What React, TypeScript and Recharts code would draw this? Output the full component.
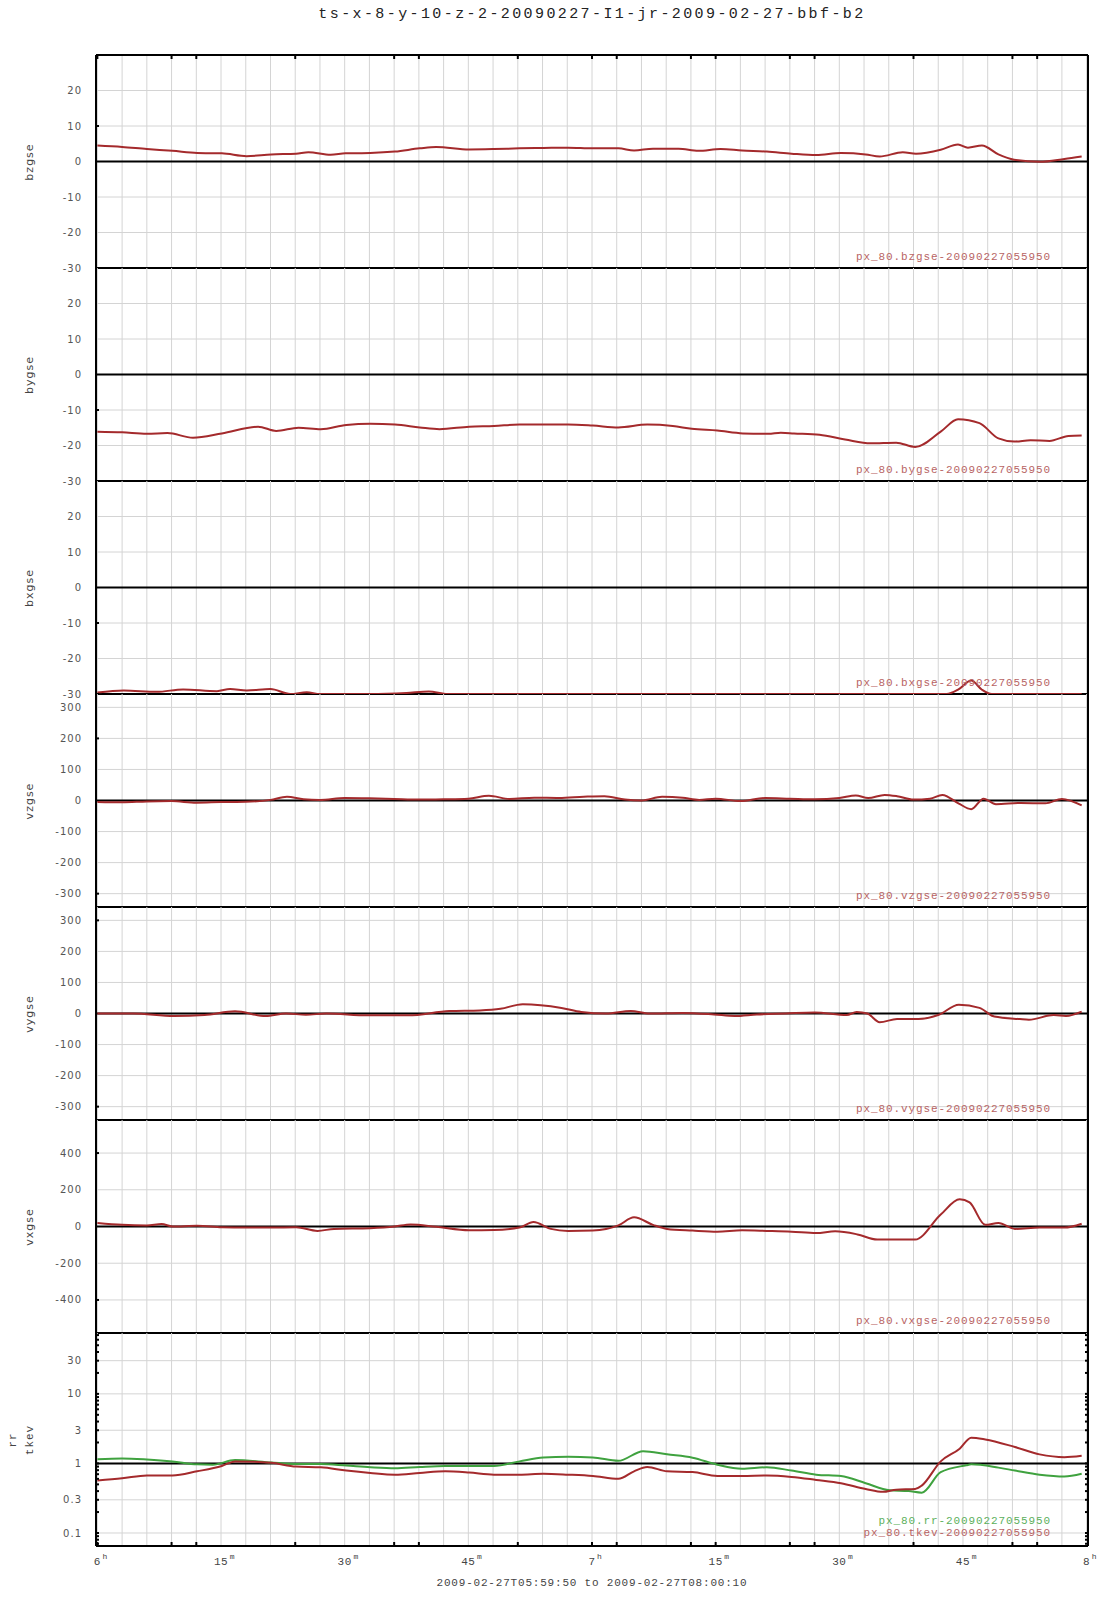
import React from 'react'
import { LineChart, Line, XAxis, YAxis, ReferenceLine } from 'recharts'

// time axis in minutes after 06:00 (span is 05:59:50 .. 08:00:10)
const T_START = -1 / 6
const T_END = 120 + 1 / 6
const GRID_TICKS = Array.from({ length: 41 }, (_, i) => i * 3)
const MINOR_X = [0, 9, 12, 24, 36, 39, 51, 60, 63, 72, 75, 84, 87, 99, 111, 114]
const X_LABEL_TICKS = [0, 15, 30, 45, 60, 75, 90, 105, 120]
const X_LABEL_MAIN = ['6', '15', '30', '45', '7', '15', '30', '45', '8']
const X_LABEL_SUP = ['h', 'm', 'm', 'm', 'h', 'm', 'm', 'm', 'h']

const B_TICKS = [20, 10, 0, -10, -20, -30]
const V_TICKS = [300, 200, 100, 0, -100, -200, -300]
const VX_TICKS = [400, 200, 0, -200, -400]
const LOG_TICKS = [30, 10, 3, 1, 0.3, 0.1]
const LOG_MINOR = [0.07, 0.08, 0.09, 0.1, 0.2, 0.3, 0.4, 0.5, 0.6, 0.7, 0.8, 0.9, 1, 2, 3, 4, 5, 6, 7, 8, 9, 10, 20, 30, 40, 50, 60, 70]

// [minute, value]
const BZGSE: [number, number][] = [
  [0, 4.5], [3, 4.1], [6, 3.5], [9.1, 3.0], [12.1, 2.4], [15.1, 2.3], [18.1, 1.5], [21.1, 2.0],
  [24.1, 2.2], [25.6, 2.6], [28.3, 1.9], [30.1, 2.3], [33.1, 2.4], [36.1, 2.8], [39.1, 3.7],
  [41.1, 4.1], [45.1, 3.4], [48.1, 3.5], [51.2, 3.7], [54.1, 3.8], [57.1, 3.9], [60.1, 3.7],
  [63.2, 3.7], [65.1, 3.1], [67.4, 3.6], [70.5, 3.6], [72.9, 3.0], [75.6, 3.5], [78.2, 3.1],
  [81.2, 2.8], [84.2, 2.2], [87.2, 1.8], [90.2, 2.4], [93.2, 2.0], [94.9, 1.4], [97.7, 2.6],
  [99.3, 2.2], [102.3, 3.3], [104.4, 4.8], [105.6, 3.9], [107.3, 4.5], [109.3, 2.0], [111.2, 0.5],
  [114.3, -0.1], [117.3, 0.7], [119.4, 1.4],
]

const BYGSE: [number, number][] = [
  [0, -16.1], [3, -16.3], [6, -16.7], [8.5, -16.5], [11.6, -17.8], [15.1, -16.6], [19.5, -14.7],
  [21.7, -15.9], [24.4, -15.0], [27.1, -15.4], [30.2, -14.2], [33.1, -13.9], [36.1, -14.1],
  [39.1, -14.9], [41.5, -15.4], [45.1, -14.7], [48.1, -14.5], [51.2, -14.1], [54.1, -14.1],
  [57.1, -14.1], [60.1, -14.4], [63.2, -14.9], [66.7, -14.1], [69.8, -14.5], [72.1, -15.3],
  [75.2, -15.8], [78.3, -16.6], [81.4, -16.7], [82.9, -16.4], [84.5, -16.6], [87.6, -17.0],
  [90.7, -18.3], [93.8, -19.4], [96.9, -19.2], [99.2, -20.4], [102.3, -16.1], [104.4, -12.6],
  [107, -13.7], [109.3, -18.0], [111.2, -18.9], [113.2, -18.5], [115.5, -18.7], [117.8, -17.3],
  [119.4, -17.2],
]

const BXGSE: [number, number][] = [
  [0, -29.6], [3.2, -29.0], [7.2, -29.4], [10.4, -28.7], [14.5, -29.2], [16.1, -28.6], [18.1, -29.0],
  [21, -28.6], [23.4, -30], [25.4, -29.5], [27, -30], [33, -30], [37.5, -29.7], [40.2, -29.3],
  [42.5, -30], [60, -30], [80, -30], [103, -30], [104.5, -28.6], [106, -26.2], [107.3, -28.8],
  [108.5, -30], [119.4, -30],
]

const VZGSE: [number, number][] = [
  [0, -5], [3, -6], [6, -3], [9, -2], [12, -7], [15, -5], [18, -4], [21, 2], [23, 12], [25, 4],
  [27, 2], [30, 8], [33, 7], [36, 5], [39, 3], [42, 4], [45, 6], [47.5, 15], [50, 5], [53, 9],
  [56, 8], [59, 12], [61.5, 14], [64, 3], [66, 0], [68.5, 12], [71, 9], [73, 2], [75, 6],
  [78, -2], [81, 8], [84, 6], [87, 4], [90, 8], [92, 16], [93.5, 8], [95.5, 18], [97, 14],
  [99, 3], [101, 6], [102.5, 18], [104.5, -10], [106, -28], [107.5, 6], [109, -12], [112, -8],
  [115, -9], [117, 5], [119.4, -16],
]

const VYGSE: [number, number][] = [
  [0, 0], [4.3, 0], [9.3, -8], [13, -5], [16.7, 7], [20.4, -8], [22.9, 0], [25.3, -4], [27.8, 0],
  [32.8, -6], [37.7, -6], [42.7, 8], [46.4, 10], [48.9, 15], [51.6, 30], [56.3, 18], [58.7, 5],
  [61.7, 0], [64.7, 8], [67, 0], [71, 2], [74.8, -3], [77.3, -8], [80, -3], [83.5, 0], [87, 3],
  [90.9, -5], [92.1, 5], [93.4, 0], [94.9, -28], [97, -18], [99.6, -18], [102, -5], [104.5, 28],
  [107, 18], [108.8, -10], [111.9, -18], [113, -20], [116, -5], [117.5, -8], [119.4, 6],
]

const VXGSE: [number, number][] = [
  [0, 19], [3, 9], [6, 6], [7.8, 13], [9.1, 0], [12.1, 4], [15.1, -4], [18.1, -6], [21.1, -6],
  [24.1, -4], [26.7, -24], [28.7, -13], [33.1, -9], [36.1, 0], [38, 11], [41.1, -2], [45.1, -21],
  [48.1, -19], [51.2, -6], [52.9, 24], [55, -13], [57.1, -24], [60.1, -22], [63.2, 6], [65.1, 50],
  [67.4, 9], [69.1, -13], [72.2, -22], [75.2, -28], [78.2, -21], [81.2, -24], [84.2, -28],
  [87.2, -36], [89.5, -26], [92.2, -43], [94.6, -71], [96.9, -71], [99.2, -71], [102.3, 65],
  [104.6, 148], [105.8, 131], [107.7, 9], [109.3, 19], [111.3, -13], [114.3, -6], [117.3, -6],
  [119.4, 15],
]

const TKEV: [number, number][] = [
  [0, 0.57], [3, 0.61], [6, 0.67], [9.1, 0.67], [12.1, 0.77], [15.1, 0.92], [16.7, 1.07],
  [21.1, 1.02], [24.1, 0.9], [27.1, 0.88], [30.2, 0.79], [33.1, 0.73], [36.1, 0.69], [39.1, 0.73],
  [42.2, 0.77], [45.1, 0.74], [48.1, 0.69], [51.2, 0.69], [54.1, 0.71], [57.1, 0.69], [60.1, 0.66],
  [63.2, 0.6], [65.1, 0.77], [66.7, 0.89], [69.1, 0.77], [72.2, 0.75], [75.2, 0.66], [78.2, 0.66],
  [81.2, 0.67], [84.2, 0.64], [87.2, 0.58], [90.2, 0.52], [93.2, 0.43], [95.3, 0.39], [96.9, 0.42],
  [99.2, 0.43], [100, 0.48], [102.3, 1.07], [104.6, 1.63], [106, 2.34], [107.7, 2.21],
  [111.3, 1.72], [114.3, 1.35], [117.3, 1.23], [119.4, 1.29],
]

const RR: [number, number][] = [
  [0, 1.15], [3, 1.18], [6, 1.14], [9.1, 1.07], [12.1, 0.97], [14, 0.96], [16.7, 1.12],
  [21.1, 1.03], [24.1, 0.98], [27.1, 0.98], [30.2, 0.93], [33.1, 0.88], [36.1, 0.85], [39.1, 0.89],
  [42.2, 0.92], [45.1, 0.92], [48.1, 0.92], [51.2, 1.07], [54.1, 1.22], [57.1, 1.25], [60.1, 1.22],
  [63.2, 1.09], [66.2, 1.5], [69.1, 1.35], [72.2, 1.21], [75.2, 0.96], [78.2, 0.84], [81.2, 0.88],
  [84.2, 0.79], [87.2, 0.69], [90.2, 0.66], [93.2, 0.52], [96.1, 0.41], [98.4, 0.4], [100, 0.38],
  [102.3, 0.75], [105.4, 0.94], [106, 0.97], [109.3, 0.87], [111.3, 0.79], [114.3, 0.69],
  [117.3, 0.65], [119.4, 0.71],
]

const RED = '#a42a2c'
const GREEN = '#3fa23f'
const NOTE_RED = '#b86464'
const NOTE_GREEN = '#5cb05c'
const GRID = '#d4d4d4'
const MONO = '"Liberation Mono", "DejaVu Sans Mono", monospace'
const SANS = '"DejaVu Sans", Verdana, sans-serif'

const PANEL_H = 213
const CHART_W = 1107
const PLOT_LEFT = 96
const PLOT_W = 992
const PAD = 10

type Series = { name: string; data: [number, number][]; color: string }

type PanelProps = {
  top: number
  series: Series[]
  domain: [number, number]
  ticks: number[]
  log?: boolean
  marks: number[]
  rightMarks?: boolean
  zero: number
  first?: boolean
  last?: boolean
}

// bottom time axis: short inward marks plus "6h", "15m"... labels
function TimeTick(props: any) {
  const { x, y, payload } = props
  const v = payload.value
  const i = X_LABEL_TICKS.indexOf(v)
  const main = i >= 0 ? X_LABEL_MAIN[i] : ''
  return (
    <g>
      {MINOR_X.includes(v) && <line x1={x} x2={x} y1={y} y2={y - 4} stroke="#000" strokeWidth={2} />}
      {i >= 0 && (
        <text x={x} y={y + 19} textAnchor="middle" fill="#444" fontSize={11} fontFamily={MONO} letterSpacing={0.5}>
          {main}
        </text>
      )}
      {i >= 0 && (
        <text x={x + main.length * 3.6 + 1.5} y={y + 13} fill="#444" fontSize={8} fontFamily={MONO}>
          {X_LABEL_SUP[i]}
        </text>
      )}
    </g>
  )
}

function TopTick(props: any) {
  const { x, y, payload } = props
  if (!MINOR_X.includes(payload.value)) return <g />
  return <line x1={x} x2={x} y1={y} y2={y + 4} stroke="#000" strokeWidth={2} />
}

function makeYTick(labels: number[], marks: number[], rightMarks: boolean) {
  return (props: any) => {
    const { x, y, payload } = props
    const v = payload.value
    return (
      <g>
        {labels.includes(v) && (
          <text x={x - 14} y={y} dy="0.355em" textAnchor="end" fill="#555" fontSize={10} fontFamily={SANS} letterSpacing={1}>
            {String(v)}
          </text>
        )}
        {marks.includes(v) && <line x1={x} x2={x + 3} y1={y} y2={y} stroke="#000" strokeWidth={2} />}
        {rightMarks && marks.includes(v) && (
          <line x1={x + PLOT_W - 3} x2={x + PLOT_W} y1={y} y2={y} stroke="#000" strokeWidth={2} />
        )}
      </g>
    )
  }
}

function Panel({ top, series, domain, ticks, log, marks, rightMarks, zero, first, last }: PanelProps) {
  const scale = log ? 'log' : 'linear'
  const topH = first ? 1 : 0
  const bottomH = last ? 40 : 0
  const yTicks = Array.from(new Set([...ticks, ...marks]))
  const bottomTicks = Array.from(new Set([...MINOR_X, ...X_LABEL_TICKS])).sort((a, b) => a - b)
  return (
    <div style={{ position: 'absolute', left: 0, top: top - PAD - topH }}>
      <LineChart
        width={CHART_W}
        height={PANEL_H + 2 * PAD + topH + bottomH}
        margin={{ top: PAD, right: CHART_W - PLOT_LEFT - PLOT_W, bottom: PAD, left: 0 }}
      >
        {first && (
          <XAxis
            dataKey="t"
            type="number"
            orientation="top"
            domain={[T_START, T_END]}
            allowDataOverflow
            ticks={MINOR_X}
            interval={0}
            height={1}
            tick={(p: any) => <TopTick {...p} />}
            tickSize={0}
            tickMargin={0}
            tickLine={false}
            axisLine={false}
          />
        )}
        {last && (
          <XAxis
            dataKey="t"
            type="number"
            domain={[T_START, T_END]}
            allowDataOverflow
            ticks={bottomTicks}
            interval={0}
            height={bottomH}
            tick={(p: any) => <TimeTick {...p} />}
            tickSize={0}
            tickMargin={0}
            tickLine={false}
            axisLine={false}
          />
        )}
        {!first && !last && (
          <XAxis dataKey="t" type="number" domain={[T_START, T_END]} allowDataOverflow hide />
        )}
        <YAxis
          width={PLOT_LEFT}
          scale={scale}
          domain={domain}
          allowDataOverflow
          ticks={yTicks}
          interval={0}
          tick={makeYTick(ticks, marks, !!rightMarks)}
          tickSize={0}
          tickMargin={0}
          tickLine={false}
          axisLine={false}
        />
        {GRID_TICKS.map((t) => (
          <ReferenceLine key={'gx' + t} x={t} stroke={GRID} strokeWidth={1} ifOverflow="visible" />
        ))}
        {ticks.map((v) => (
          <ReferenceLine key={'gy' + v} y={v} stroke={GRID} strokeWidth={1} ifOverflow="visible" />
        ))}
        <ReferenceLine y={zero} stroke="#000" strokeWidth={2} />
        <ReferenceLine y={domain[0]} stroke="#000" strokeWidth={2} ifOverflow="visible" />
        {first && <ReferenceLine y={domain[1]} stroke="#000" strokeWidth={2} ifOverflow="visible" />}
        <ReferenceLine x={T_START} stroke="#000" strokeWidth={2} ifOverflow="visible" />
        <ReferenceLine x={T_END} stroke="#000" strokeWidth={2} ifOverflow="visible" />
        {series.map((s) => (
          <Line
            key={s.name}
            data={s.data.map(([t, v]) => ({ t, v }))}
            dataKey="v"
            type="monotone"
            stroke={s.color}
            strokeWidth={2}
            dot={false}
            isAnimationActive={false}
          />
        ))}
      </LineChart>
    </div>
  )
}

function YLabel({ x, y, text, mono }: { x: number; y: number; text: string; mono?: boolean }) {
  return (
    <div
      style={{
        position: 'absolute',
        left: x,
        top: y,
        transform: 'translate(-50%, -50%) rotate(-90deg)',
        whiteSpace: 'nowrap',
        fontFamily: mono ? MONO : SANS,
        fontSize: 11,
        letterSpacing: 1,
        color: '#444',
        lineHeight: '12px',
      }}
    >
      {text}
    </div>
  )
}

function Note({ y, text, color }: { y: number; text: string; color: string }) {
  return (
    <div
      style={{
        position: 'absolute',
        right: 56,
        top: y - 7,
        whiteSpace: 'nowrap',
        fontFamily: MONO,
        fontSize: 11,
        letterSpacing: 0.9,
        color,
        lineHeight: '14px',
      }}
    >
      {text}
    </div>
  )
}

const PANEL_TOPS = [55, 268, 481, 694, 907, 1120, 1333]

export default function App() {
  const mid = (i: number) => PANEL_TOPS[i] + PANEL_H / 2
  const bottom = (i: number) => PANEL_TOPS[i] + PANEL_H
  return (
    <div style={{ position: 'absolute', left: 0, top: 0, width: 1107, height: 1600, background: '#fff' }}>
      <div
        style={{
          position: 'absolute',
          left: 192,
          width: 800,
          top: 6,
          textAlign: 'center',
          fontFamily: MONO,
          fontSize: 15,
          letterSpacing: 2.4,
          color: '#222',
          lineHeight: '18px',
        }}
      >
        ts-x-8-y-10-z-2-20090227-I1-jr-2009-02-27-bbf-b2
      </div>

      <Panel top={PANEL_TOPS[0]} first series={[{ name: 'bzgse', data: BZGSE, color: RED }]} domain={[-30, 30]} ticks={B_TICKS} marks={[10, -30]} zero={0} />
      <Panel top={PANEL_TOPS[1]} series={[{ name: 'bygse', data: BYGSE, color: RED }]} domain={[-30, 30]} ticks={B_TICKS} marks={[-10, -30]} zero={0} />
      <Panel top={PANEL_TOPS[2]} series={[{ name: 'bxgse', data: BXGSE, color: RED }]} domain={[-30, 30]} ticks={B_TICKS} marks={[-10, -30]} zero={0} />
      <Panel top={PANEL_TOPS[3]} series={[{ name: 'vzgse', data: VZGSE, color: RED }]} domain={[-343, 343]} ticks={V_TICKS} marks={[200, -300]} zero={0} />
      <Panel top={PANEL_TOPS[4]} series={[{ name: 'vygse', data: VYGSE, color: RED }]} domain={[-343, 343]} ticks={V_TICKS} marks={[300, -300]} zero={0} />
      <Panel top={PANEL_TOPS[5]} series={[{ name: 'vxgse', data: VXGSE, color: RED }]} domain={[-580, 580]} ticks={VX_TICKS} marks={[400, -400]} zero={0} />
      <Panel
        top={PANEL_TOPS[6]}
        last
        log
        series={[
          { name: 'rr', data: RR, color: GREEN },
          { name: 'tkev', data: TKEV, color: RED },
        ]}
        domain={[0.065, 75]}
        ticks={LOG_TICKS}
        marks={LOG_MINOR}
        rightMarks
        zero={1}
      />

      <YLabel x={30} y={mid(0)} text="bzgse" />
      <YLabel x={30} y={mid(1)} text="bygse" />
      <YLabel x={30} y={mid(2)} text="bxgse" />
      <YLabel x={30} y={mid(3)} text="vzgse" />
      <YLabel x={30} y={mid(4)} text="vygse" />
      <YLabel x={30} y={mid(5)} text="vxgse" />
      <YLabel x={13} y={mid(6)} text="rr" mono />
      <YLabel x={30} y={mid(6)} text="tkev" mono />

      <Note y={bottom(0) - 11} text="px_80.bzgse-20090227055950" color={NOTE_RED} />
      <Note y={bottom(1) - 11} text="px_80.bygse-20090227055950" color={NOTE_RED} />
      <Note y={bottom(2) - 11} text="px_80.bxgse-20090227055950" color={NOTE_RED} />
      <Note y={bottom(3) - 11} text="px_80.vzgse-20090227055950" color={NOTE_RED} />
      <Note y={bottom(4) - 11} text="px_80.vygse-20090227055950" color={NOTE_RED} />
      <Note y={bottom(5) - 12} text="px_80.vxgse-20090227055950" color={NOTE_RED} />
      <Note y={bottom(6) - 25} text="px_80.rr-20090227055950" color={NOTE_GREEN} />
      <Note y={bottom(6) - 13} text="px_80.tkev-20090227055950" color={NOTE_RED} />

      <div
        style={{
          position: 'absolute',
          left: 192,
          width: 800,
          top: 1576,
          textAlign: 'center',
          fontFamily: MONO,
          fontSize: 11,
          letterSpacing: 0.8,
          color: '#444',
          lineHeight: '14px',
        }}
      >
        2009-02-27T05:59:50 to 2009-02-27T08:00:10
      </div>
    </div>
  )
}
